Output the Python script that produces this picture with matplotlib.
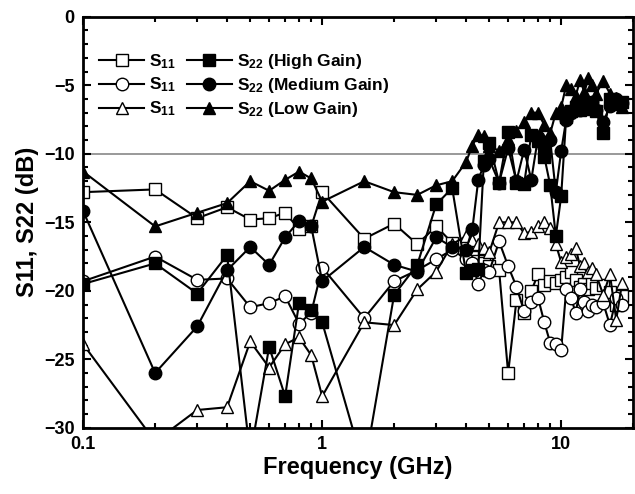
import numpy as np
import matplotlib.pyplot as plt

plt.rcParams['font.family'] = ['Liberation Sans', 'DejaVu Sans']
plt.rcParams['font.weight'] = 'bold'
plt.rcParams['mathtext.default'] = 'regular'

# frequency points (GHz)
freq = [0.1, 0.2, 0.3, 0.4, 0.5, 0.6, 0.7, 0.8, 0.9, 1.0, 1.5, 2.0, 2.5, 3.0,
        3.5, 4.0, 4.25, 4.5, 4.75, 5.0, 5.5, 6.0, 6.5, 7.0, 7.5, 8.0, 8.5, 9.0,
        9.5, 10, 10.5, 11, 11.5, 12, 12.5, 13, 13.5, 14, 15, 16, 17, 18]

# S11 (dB)
s11_high = [-12.8, -12.6, -14.7, -13.9, -14.8, -14.7, -14.3, -15.5, -15.3, -12.8, -16.2, -15.1, -16.6, -15.3,
            -16.5, -17.2, -17.5, -17.8, -18.0, -18.2, -18.5, -26.0, -20.7, -21.6, -20.0, -18.8, -19.6, -19.3,
            -19.4, -19.2, -19.0, -18.6, -19.2, -19.7, -19.5, -19.9, -19.4, -19.8, -19.6, -20.1, -21.0, -20.4]
s11_med = [-19.3, -17.5, -19.2, -19.1, -21.2, -20.9, -20.4, -22.4, -21.6, -18.3, -22.0, -19.3, -18.5, -17.7,
           -17.0, -17.7, -18.0, -19.5, -18.5, -18.6, -16.4, -18.2, -19.7, -21.5, -20.8, -20.5, -22.3, -23.8,
           -23.9, -24.3, -19.9, -20.5, -21.6, -19.9, -20.8, -21.5, -21.0, -21.2, -20.9, -22.5, -20.5, -21.0]
s11_low = [-23.9, -31.0, -28.7, -28.5, -23.7, -25.6, -23.9, -23.4, -24.7, -27.7, -22.3, -22.5, -19.9, -18.6,
           -16.6, -16.0, -16.3, -16.6, -16.9, -17.2, -15.0, -15.0, -15.0, -15.8, -15.7, -15.3, -15.0, -15.4,
           -16.6, -17.9, -17.5, -17.3, -16.9, -18.2, -18.0, -18.6, -18.3, -18.8, -20.3, -18.8, -22.1, -19.4]

# S22 (dB)
s22_high = [-19.5, -18.0, -20.2, -17.4, -32.0, -24.1, -27.7, -20.9, -21.4, -22.3, -33.0, -20.3, -18.1, -13.7,
            -12.5, -18.7, -18.5, -18.4, -10.5, -9.2, -12.1, -8.4, -12.1, -12.2, -8.6, -9.1, -10.2, -12.3,
            -16.0, -13.1, -7.3, -6.9, -6.6, -6.8, -6.4, -6.7, -6.3, -6.9, -8.5, -6.0, -6.4, -6.2]
s22_med = [-14.2, -26.0, -22.6, -18.5, -16.8, -18.1, -16.1, -14.9, -15.3, -19.3, -16.8, -18.1, -18.6, -16.1,
           -16.8, -17.0, -15.5, -11.9, -10.8, -10.4, -12.1, -9.6, -12.0, -9.7, -11.9, -8.8, -9.6, -9.0,
           -12.8, -9.8, -7.5, -7.0, -6.5, -6.8, -6.3, -6.6, -6.2, -6.8, -7.7, -6.5, -6.0, -6.3]
s22_low = [-11.3, -15.3, -14.3, -13.6, -12.0, -12.7, -11.9, -11.3, -11.8, -13.5, -12.0, -12.8, -13.0, -12.3,
           -12.0, -10.6, -9.4, -8.6, -8.7, -9.4, -9.8, -8.9, -8.3, -7.7, -7.0, -7.0, -7.9, -8.5,
           -7.0, -6.6, -5.0, -5.3, -5.8, -4.6, -5.5, -4.5, -5.0, -5.6, -4.7, -5.6, -5.9, -6.6]

fig, ax = plt.subplots(figsize=(6.35, 4.94), dpi=100)
fig.subplots_adjust(left=0.131, right=0.997, top=0.966, bottom=0.134)

ax.axhline(-10, color='#888888', linewidth=1.2, zorder=1)

kw = dict(color='black', linewidth=1.5, markeredgecolor='black', markersize=9, markeredgewidth=1.0)
h1, = ax.plot(freq, s11_high, marker='s', markerfacecolor='white', label='S$_{11}$', **kw)
h2, = ax.plot(freq, s11_med, marker='o', markerfacecolor='white', label='S$_{11}$', **kw)
h3, = ax.plot(freq, s11_low, marker='^', markerfacecolor='white', label='S$_{11}$', **kw)
h4, = ax.plot(freq, s22_high, marker='s', markerfacecolor='black', label='S$_{22}$ (High Gain)', **kw)
h5, = ax.plot(freq, s22_med, marker='o', markerfacecolor='black', label='S$_{22}$ (Medium Gain)', **kw)
h6, = ax.plot(freq, s22_low, marker='^', markerfacecolor='black', label='S$_{22}$ (Low Gain)', **kw)

ax.set_xscale('log')
ax.set_xlim(0.1, 20)
ax.set_ylim(-30, 0)
ax.set_yticks(range(-30, 1, 5))
ax.set_yticks(range(-30, 1, 1), minor=True)
ax.set_xticks([0.1, 1, 10])
ax.set_xticklabels(['0.1', '1', '10'])

ax.tick_params(which='both', direction='in', top=True, right=True, labelsize=13, width=1.5)
ax.tick_params(which='major', length=6, pad=6)
ax.tick_params(which='minor', length=3.5)
for sp in ax.spines.values():
    sp.set_linewidth(2)

ax.set_xlabel('Frequency (GHz)', fontsize=17, fontweight='bold', labelpad=2)
ax.set_ylabel('S11, S22 (dB)', fontsize=17, fontweight='bold', labelpad=4)

ax.legend(handles=[h1, h2, h3, h4, h5, h6], ncol=2, loc='upper left',
          bbox_to_anchor=(0.01, 0.94), frameon=False, fontsize=12.5,
          handlelength=2.6, handletextpad=0.3, columnspacing=0.6,
          labelspacing=0.3, borderaxespad=0.2)

fig.savefig('out.png', dpi=100)
